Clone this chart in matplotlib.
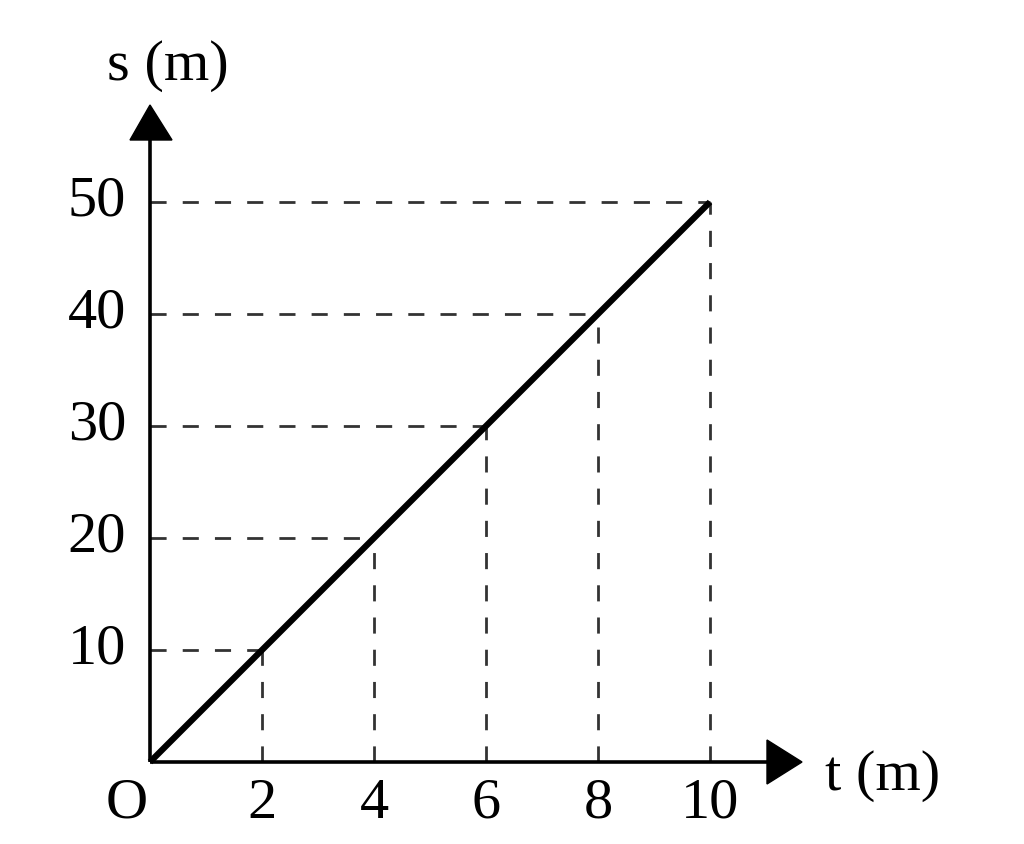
import matplotlib.pyplot as plt
from matplotlib.patches import Polygon

# Data
t_values = [0, 2, 4, 6, 8, 10]
s_values = [0, 10, 20, 30, 40, 50]
x_ticks = [2, 4, 6, 8, 10]
y_ticks = [10, 20, 30, 40, 50]

plt.rcParams['font.family'] = ['Liberation Serif', 'DejaVu Serif']

W, H = 1024, 844
fig = plt.figure(figsize=(W / 100, H / 100), dpi=100)
ax = fig.add_axes([0, 0, 1, 1])

# pixel mapping: origin at (150, 762), 56 px per t unit, 11.2 px per s unit
ox, oy, sx, sy = 150, 762, 56.0, 11.2
ax.set_xlim(-ox / sx, (W - ox) / sx)
ax.set_ylim(-(H - oy) / sy, oy / sy)
ax.axis('off')

def px_x(p):
    return (p - ox) / sx

def px_y(p):
    return (oy - p) / sy

# dashed guides
dash = dict(color='#333333', lw=2.0, dashes=(5.8, 5.8))
for t, s in zip(t_values[1:], s_values[1:]):
    ax.plot([0, t], [s, s], **dash)
    ax.plot([t, t], [0, s], **dash)

# axes lines
ax.plot([0, px_x(770)], [0, 0], color='black', lw=2.6, solid_capstyle='butt')
ax.plot([0, 0], [0, px_y(138)], color='black', lw=2.6, solid_capstyle='butt')

# arrow heads
ax.add_patch(Polygon([[px_x(767), px_y(740)], [px_x(802), 0], [px_x(767), px_y(784)]],
                     closed=True, color='black'))
ax.add_patch(Polygon([[px_x(130), px_y(140)], [0, px_y(105)], [px_x(172), px_y(140)]],
                     closed=True, color='black'))

# main line
ax.plot(t_values, s_values, color='black', lw=4.5, solid_capstyle='butt')

fs = 42
for t in x_ticks:
    ax.text(t, px_y(804), str(t), ha='center', va='center', fontsize=fs)
for s in y_ticks:
    ax.text(px_x(126), s, str(s), ha='right', va='center', fontsize=fs)
ax.text(px_x(127), px_y(804), 'O', ha='center', va='center', fontsize=fs)
ax.text(px_x(168), px_y(66), 's (m)', ha='center', va='center', fontsize=fs)
ax.text(px_x(825), px_y(776), 't (m)', ha='left', va='center', fontsize=fs)

fig.savefig('out.png', dpi=100)
